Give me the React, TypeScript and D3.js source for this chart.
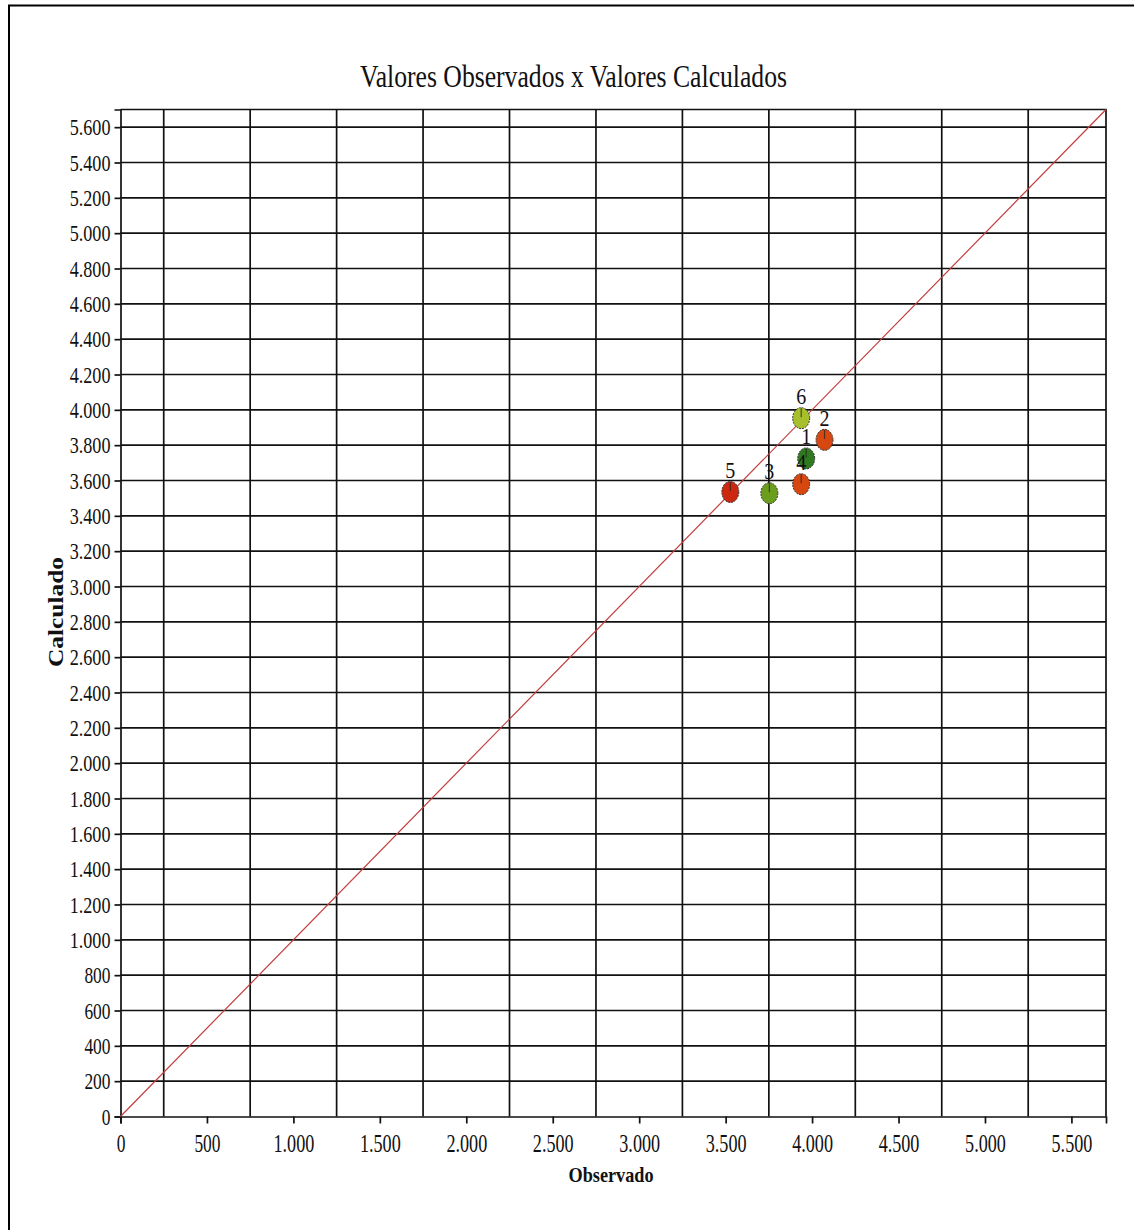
import { axisBottom, axisLeft, formatLocale, scaleLinear, select } from 'd3';
import { useEffect, useRef } from 'react';

// pontos observados x calculados
const pointLabels = ['1', '2', '3', '4', '5', '6'];
const observed = [3966, 4072, 3753, 3937, 3527, 3937];
const calculated = [3725, 3830, 3528, 3579, 3535, 3953];
const pointColors = ['#2f7a1f', '#d6480f', '#6c9e1e', '#d6480f', '#cc2810', '#a8bf2c'];

const xTicks = [0, 500, 1000, 1500, 2000, 2500, 3000, 3500, 4000, 4500, 5000, 5500];
const xGrid = [250, 750, 1250, 1750, 2250, 2750, 3250, 3750, 4250, 4750, 5250];
const yTicks = [
  0, 200, 400, 600, 800, 1000, 1200, 1400, 1600, 1800, 2000, 2200, 2400, 2600, 2800,
  3000, 3200, 3400, 3600, 3800, 4000, 4200, 4400, 4600, 4800, 5000, 5200, 5400, 5600,
];
const axisMax = 5700;

const W = 1134;
const H = 1230;
const left = 120.5;
const right = 1106;
const top = 109.5;
const bottom = 1116.5;

const serif = '"Liberation Serif", "Times New Roman", serif';
const fmt = formatLocale({ decimal: ',', thousands: '.', grouping: [3], currency: ['', ''] }).format(',d');
const labelLen = (s: string) => s.replace(/\./g, '').length * 8.7 + (s.split('.').length - 1) * 6;

function App() {
  const svgRef = useRef<SVGSVGElement>(null);

  useEffect(() => {
    const svg = select(svgRef.current);
    svg.selectAll('*').remove();

    const x = scaleLinear().domain([0, axisMax]).range([left, right]);
    const y = scaleLinear().domain([0, axisMax]).range([bottom, top]);

    // moldura externa
    svg.append('path')
      .attr('d', `M9,${H} V5.5 H${W}`)
      .attr('fill', 'none')
      .attr('stroke', '#000')
      .attr('stroke-width', 2);

    // grade
    const grid = svg.append('g').attr('stroke', '#111').attr('stroke-width', 1.7);
    grid.selectAll('.hgrid')
      .data(yTicks.slice(1))
      .join('line')
      .attr('class', 'hgrid')
      .attr('x1', left)
      .attr('x2', right)
      .attr('y1', d => y(d))
      .attr('y2', d => y(d));
    grid.selectAll('.vgrid')
      .data(xGrid)
      .join('line')
      .attr('class', 'vgrid')
      .attr('x1', d => x(d))
      .attr('x2', d => x(d))
      .attr('y1', top)
      .attr('y2', bottom);
    grid.append('path')
      .attr('d', `M${left},${top} H${right} V${bottom}`)
      .attr('fill', 'none');

    // eixos
    const yAxis = axisLeft(y).tickValues(yTicks).tickSize(6).tickPadding(4).tickFormat(d => fmt(+d));
    const xAxis = axisBottom(x).tickValues(xTicks).tickSize(7).tickPadding(11).tickFormat(d => fmt(+d));

    const gy = svg.append('g').attr('transform', `translate(${left},0)`).call(yAxis);
    const gx = svg.append('g').attr('transform', `translate(0,${bottom})`).call(xAxis);
    [gx, gy].forEach(g => {
      g.select('.domain').attr('stroke', '#111').attr('stroke-width', 1.7);
      g.selectAll('.tick line').attr('stroke', '#111').attr('stroke-width', 1.7);
      g.selectAll<SVGTextElement, number>('.tick text')
        .attr('fill', '#111')
        .attr('font-family', serif)
        .attr('textLength', d => labelLen(fmt(d)))
        .attr('lengthAdjust', 'spacingAndGlyphs');
    });
    gy.selectAll('.tick text').attr('font-size', 23).attr('dy', '0.34em');
    gx.selectAll('.tick text').attr('font-size', 25).attr('dy', '0.68em');

    // linha 1:1
    svg.append('line')
      .attr('x1', x(0))
      .attr('y1', y(0))
      .attr('x2', x(axisMax))
      .attr('y2', y(axisMax))
      .attr('stroke', '#c43c3c')
      .attr('stroke-width', 1.2);

    // pontos
    const pts = svg.append('g')
      .selectAll('g')
      .data(pointLabels.map((l, i) => ({ l, ox: observed[i], cy: calculated[i], c: pointColors[i] })))
      .join('g')
      .attr('transform', d => `translate(${x(d.ox)},${y(d.cy)})`);
    pts.append('ellipse')
      .attr('rx', 8.5)
      .attr('ry', 10.5)
      .attr('fill', d => d.c)
      .attr('stroke', '#333')
      .attr('stroke-width', 1)
      .attr('stroke-dasharray', '2,1');
    pts.append('line')
      .attr('x1', 0)
      .attr('x2', 0)
      .attr('y1', -10)
      .attr('y2', -1)
      .attr('stroke', '#222')
      .attr('stroke-width', 1.2)
      .attr('opacity', 0.7);
    pts.append('text')
      .attr('y', -14)
      .attr('text-anchor', 'middle')
      .attr('font-family', serif)
      .attr('font-size', 24)
      .attr('textLength', 10)
      .attr('lengthAdjust', 'spacingAndGlyphs')
      .attr('fill', '#111')
      .text(d => d.l);

    // títulos
    svg.append('text')
      .attr('x', 573.5)
      .attr('y', 87)
      .attr('text-anchor', 'middle')
      .attr('font-family', serif)
      .attr('font-size', 32)
      .attr('textLength', 427)
      .attr('lengthAdjust', 'spacingAndGlyphs')
      .attr('fill', '#111')
      .text('Valores Observados x Valores Calculados');

    svg.append('text')
      .attr('x', 611)
      .attr('y', 1182)
      .attr('text-anchor', 'middle')
      .attr('font-family', serif)
      .attr('font-weight', 'bold')
      .attr('font-size', 22)
      .attr('textLength', 85)
      .attr('lengthAdjust', 'spacingAndGlyphs')
      .attr('fill', '#111')
      .text('Observado');

    svg.append('text')
      .attr('transform', 'translate(63,612) rotate(-90)')
      .attr('text-anchor', 'middle')
      .attr('font-family', serif)
      .attr('font-weight', 'bold')
      .attr('font-size', 22)
      .attr('textLength', 110)
      .attr('lengthAdjust', 'spacingAndGlyphs')
      .attr('fill', '#111')
      .text('Calculado');
  }, []);

  return (
    <svg
      ref={svgRef}
      width={W}
      height={H}
      style={{ position: 'absolute', left: 0, top: 0, background: '#fff', display: 'block' }}
    />
  );
}

export default App;
